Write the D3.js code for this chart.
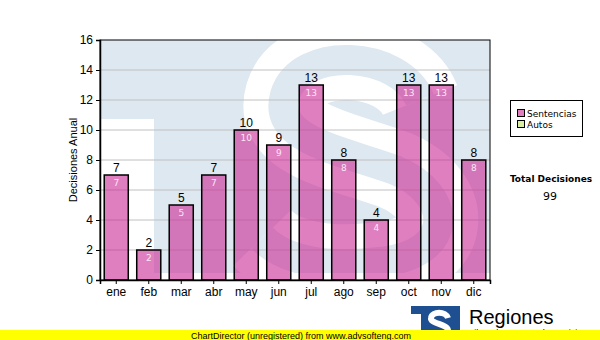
<!DOCTYPE html>
<html>
<head>
<meta charset="utf-8">
<script src="https://cdn.jsdelivr.net/npm/d3@7"></script>
<style>
  body { margin: 0; background: #fff; }
  svg { display: block; }
</style>
</head>
<body>
<div id="chart"></div>
<script>
// Data
const months = ["ene", "feb", "mar", "abr", "may", "jun", "jul", "ago", "sep", "oct", "nov", "dic"];
const sentencias = [7, 2, 5, 7, 10, 9, 13, 8, 4, 13, 13, 8];
const seriesNames = ["Sentencias", "Autos"];
const seriesColors = ["#e07fc0", "#d8f0a0"];
const yTicks = [0, 2, 4, 6, 8, 10, 12, 14, 16];

const width = 600, height = 340;
const plot = { left: 100, right: 490, top: 40, bottom: 280 };

const svg = d3.select("#chart").append("svg")
    .attr("width", width)
    .attr("height", height)
    .style("font-family", "Arial, 'Liberation Sans', sans-serif");

const x = d3.scaleBand()
    .domain(months)
    .range([plot.left, plot.right])
    .paddingInner(0.26)
    .paddingOuter(0.13);

const y = d3.scaleLinear()
    .domain([0, 16])
    .range([plot.bottom, plot.top]);

// watermark "TS" behind the plot
const wm = svg.append("g");
wm.append("defs").append("clipPath").attr("id", "plotclip")
  .append("rect")
    .attr("x", plot.left).attr("y", plot.top)
    .attr("width", plot.right - plot.left).attr("height", 233);
const wmg = wm.append("g").attr("clip-path", "url(#plotclip)");
wmg.append("rect")
    .attr("x", plot.left).attr("y", plot.top)
    .attr("width", plot.right - plot.left).attr("height", 233)
    .attr("fill", "#dee8f1");
wmg.append("rect")
    .attr("x", plot.left).attr("y", 119)
    .attr("width", 54).attr("height", 160)
    .attr("fill", "#fff");
const sPath = "M 420 100 C 400 50, 300 45, 285 95 C 272 140, 340 150, 395 170 C 455 195, 455 255, 380 262 C 330 268, 285 262, 262 238";
wmg.append("path").attr("d", sPath)
    .attr("fill", "none").attr("stroke", "#fff").attr("stroke-width", 80);
wmg.append("path").attr("d", sPath)
    .attr("fill", "none").attr("stroke", "#dee8f1").attr("stroke-width", 30);

// grid
svg.append("g")
  .selectAll("line")
  .data(yTicks.filter(d => d > 0 && d < 16))
  .join("line")
    .attr("x1", plot.left).attr("x2", plot.right)
    .attr("y1", d => y(d)).attr("y2", d => y(d))
    .attr("stroke", "#c0c0c0")
    .attr("stroke-width", 1);

// plot frame
svg.append("rect")
    .attr("x", plot.left).attr("y", plot.top)
    .attr("width", plot.right - plot.left).attr("height", plot.bottom - plot.top)
    .attr("fill", "none").attr("stroke", "#000").attr("stroke-width", 1);

// bars
const bars = svg.append("g");
bars.selectAll("rect")
  .data(sentencias)
  .join("rect")
    .attr("x", (d, i) => x(months[i]))
    .attr("y", d => y(d))
    .attr("width", x.bandwidth())
    .attr("height", d => y(0) - y(d))
    .attr("fill", "rgb(202,38,146)")
    .attr("fill-opacity", 0.59)
    .attr("stroke", "#000")
    .attr("stroke-width", 1.5);

// value labels above
svg.append("g")
  .selectAll("text")
  .data(sentencias)
  .join("text")
    .attr("x", (d, i) => x(months[i]) + x.bandwidth() / 2)
    .attr("y", d => y(d) - 3)
    .attr("text-anchor", "middle")
    .attr("font-size", 12)
    .attr("fill", "#000")
    .text(d => d);

// value labels inside
svg.append("g")
  .selectAll("text")
  .data(sentencias)
  .join("text")
    .attr("x", (d, i) => x(months[i]) + x.bandwidth() / 2)
    .attr("y", d => y(d) + 11)
    .attr("text-anchor", "middle")
    .attr("font-size", 9)
    .attr("font-family", "'DejaVu Sans', Verdana, sans-serif")
    .attr("fill", "#fbe6f4")
    .text(d => d);

// axes
const yAxis = svg.append("g")
    .attr("transform", `translate(${plot.left},0)`)
    .call(d3.axisLeft(y).tickValues(yTicks).tickSize(4).tickPadding(3).tickFormat(d3.format("d")));
const xAxis = svg.append("g")
    .attr("transform", `translate(0,${plot.bottom})`)
    .call(d3.axisBottom(x).tickSize(4).tickPadding(3));
[yAxis, xAxis].forEach(a => {
  a.select(".domain").attr("stroke", "#000").attr("stroke-width", 1.5);
  a.selectAll(".tick line").attr("stroke", "#000");
  a.selectAll("text").attr("font-size", 12).attr("fill", "#000")
    .attr("font-family", "Arial, 'Liberation Sans', sans-serif");
});

svg.append("text")
    .attr("transform", `translate(77,160) rotate(-90)`)
    .attr("text-anchor", "middle")
    .attr("font-size", 11)
    .text("Decisiones Anual");

// legend
const lg = svg.append("g").style("font-family", "'DejaVu Sans', Verdana, sans-serif");
lg.append("rect")
    .attr("x", 510.5).attr("y", 100.5).attr("width", 72).attr("height", 36)
    .attr("fill", "#fff").attr("stroke", "#000");
seriesNames.forEach((name, i) => {
  lg.append("rect")
    .attr("x", 517.5).attr("y", 109.5 + i * 11).attr("width", 7).attr("height", 7)
    .attr("fill", seriesColors[i]).attr("stroke", "#000");
  lg.append("text")
    .attr("x", 527).attr("y", 117 + i * 11)
    .attr("font-size", 9)
    .text(name);
});

const total = d3.sum(sentencias);
const tg = svg.append("g").style("font-family", "'DejaVu Sans', Verdana, sans-serif")
    .attr("text-anchor", "middle");
tg.append("text").attr("x", 551).attr("y", 182)
    .attr("font-size", 9).attr("font-weight", "bold").text("Total Decisiones");
tg.append("text").attr("x", 550).attr("y", 200)
    .attr("font-size", 11).text(total);

// logo (blue block with white T/S cut-out, drawn as shapes)
const logo = svg.append("g");
logo.append("rect").attr("x", 411).attr("y", 306).attr("width", 49).attr("height", 34).attr("fill", "#1d4f91");
logo.append("rect").attr("x", 411).attr("y", 314).attr("width", 10).attr("height", 26).attr("fill", "#fff");
logo.append("path")
    .attr("d", "M 448 318 C 446 311, 432 311, 431 318 C 430 324, 449 324, 448 331 C 447 338, 432 338, 430 332")
    .attr("fill", "none").attr("stroke", "#fff").attr("stroke-width", 6);
logo.append("text").attr("x", 469).attr("y", 324).attr("font-size", 20).text("Regiones");
logo.append("text").attr("x", 466).attr("y", 336).attr("font-size", 9).text("Tribunal Supremo de Justicia");

// footer
svg.append("rect").attr("x", 0).attr("y", 330).attr("width", width).attr("height", 10).attr("fill", "#ffff00");
svg.append("text").attr("x", 191).attr("y", 338.5).attr("font-size", 9).text("ChartDirector (unregistered) from www.advsofteng.com");
</script>
</body>
</html>
